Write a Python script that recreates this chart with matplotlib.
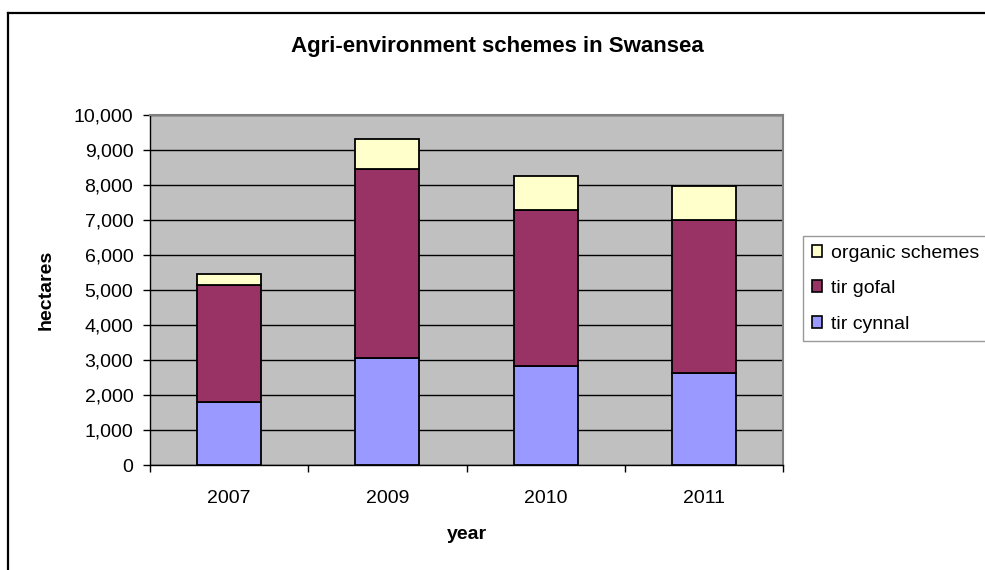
import matplotlib.pyplot as plt
from matplotlib.patches import Rectangle

plt.rcParams["font.family"] = ["Liberation Sans", "DejaVu Sans"]

years = ["2007", "2009", "2010", "2011"]
tir_cynnal = [1800, 3050, 2820, 2620]
tir_gofal = [3340, 5400, 4465, 4390]
organic_schemes = [320, 870, 960, 970]

series_names = ["tir cynnal", "tir gofal", "organic schemes"]
series_colors = ["#9999FF", "#993366", "#FFFFCC"]

fig = plt.figure(figsize=(9.85, 5.7), dpi=100)
ax = fig.add_axes([150 / 985, 105 / 570, 633 / 985, 350 / 570])
ax.set_facecolor("#C0C0C0")

x = range(len(years))
bottom = [0] * len(years)
for values, name, color in zip([tir_cynnal, tir_gofal, organic_schemes],
                               series_names, series_colors):
    ax.bar(x, values, width=0.405, bottom=bottom, color=color,
           edgecolor="black", linewidth=1.3, label=name, zorder=3)
    bottom = [b + v for b, v in zip(bottom, values)]

ax.set_xlim(-0.5, len(years) - 0.5)
ax.set_ylim(0, 10000)
ax.set_yticks(range(0, 10001, 1000))
ax.set_yticklabels([f"{v:,}" for v in range(0, 10001, 1000)], fontsize=14)
ax.yaxis.grid(True, color="black", linewidth=1.0, zorder=1)

# year labels sit between the boundary tick marks
ax.set_xticks(list(x))
ax.set_xticklabels(years, fontsize=14)
ax.set_xticks([i - 0.5 for i in range(len(years) + 1)], minor=True)
ax.tick_params(axis="x", which="major", length=0, pad=18)
ax.tick_params(axis="x", which="minor", length=5, width=1, direction="out")
ax.tick_params(axis="y", length=5, width=1, direction="out", pad=7)

for side in ["left", "bottom"]:
    ax.spines[side].set_color("black")
    ax.spines[side].set_linewidth(1.0)
for side in ["top", "right"]:
    ax.spines[side].set_color("#808080")
    ax.spines[side].set_linewidth(1.5)

ax.set_xlabel("year", fontsize=14, fontweight="bold", labelpad=14)
ax.set_ylabel("hectares", fontsize=14, fontweight="bold", labelpad=14)
fig.text(0.505, 0.918, "Agri-environment schemes in Swansea",
         fontsize=16, fontweight="bold", ha="center", va="center")

handles = [Rectangle((0, 0), 1, 1, facecolor=c, edgecolor="black", linewidth=1.2)
           for c in series_colors[::-1]]
leg = fig.legend(handles, series_names[::-1], loc="upper left",
                 bbox_to_anchor=(803 / 985, 1 - 236 / 570), fontsize=14,
                 frameon=True, fancybox=False, handlelength=0.55, handleheight=0.55,
                 handletextpad=0.45, labelspacing=0.95, borderpad=0.45,
                 borderaxespad=0)
leg.get_frame().set_edgecolor("#808080")
leg.get_frame().set_linewidth(1.0)

# outer chart frame, open at the right and bottom
fig.add_artist(plt.Line2D([8 / 985, 8 / 985], [0, 1 - 13 / 570],
                          color="black", linewidth=1.6))
fig.add_artist(plt.Line2D([8 / 985, 1], [1 - 13 / 570, 1 - 13 / 570],
                          color="black", linewidth=1.6))

fig.savefig("out.png", dpi=100)
